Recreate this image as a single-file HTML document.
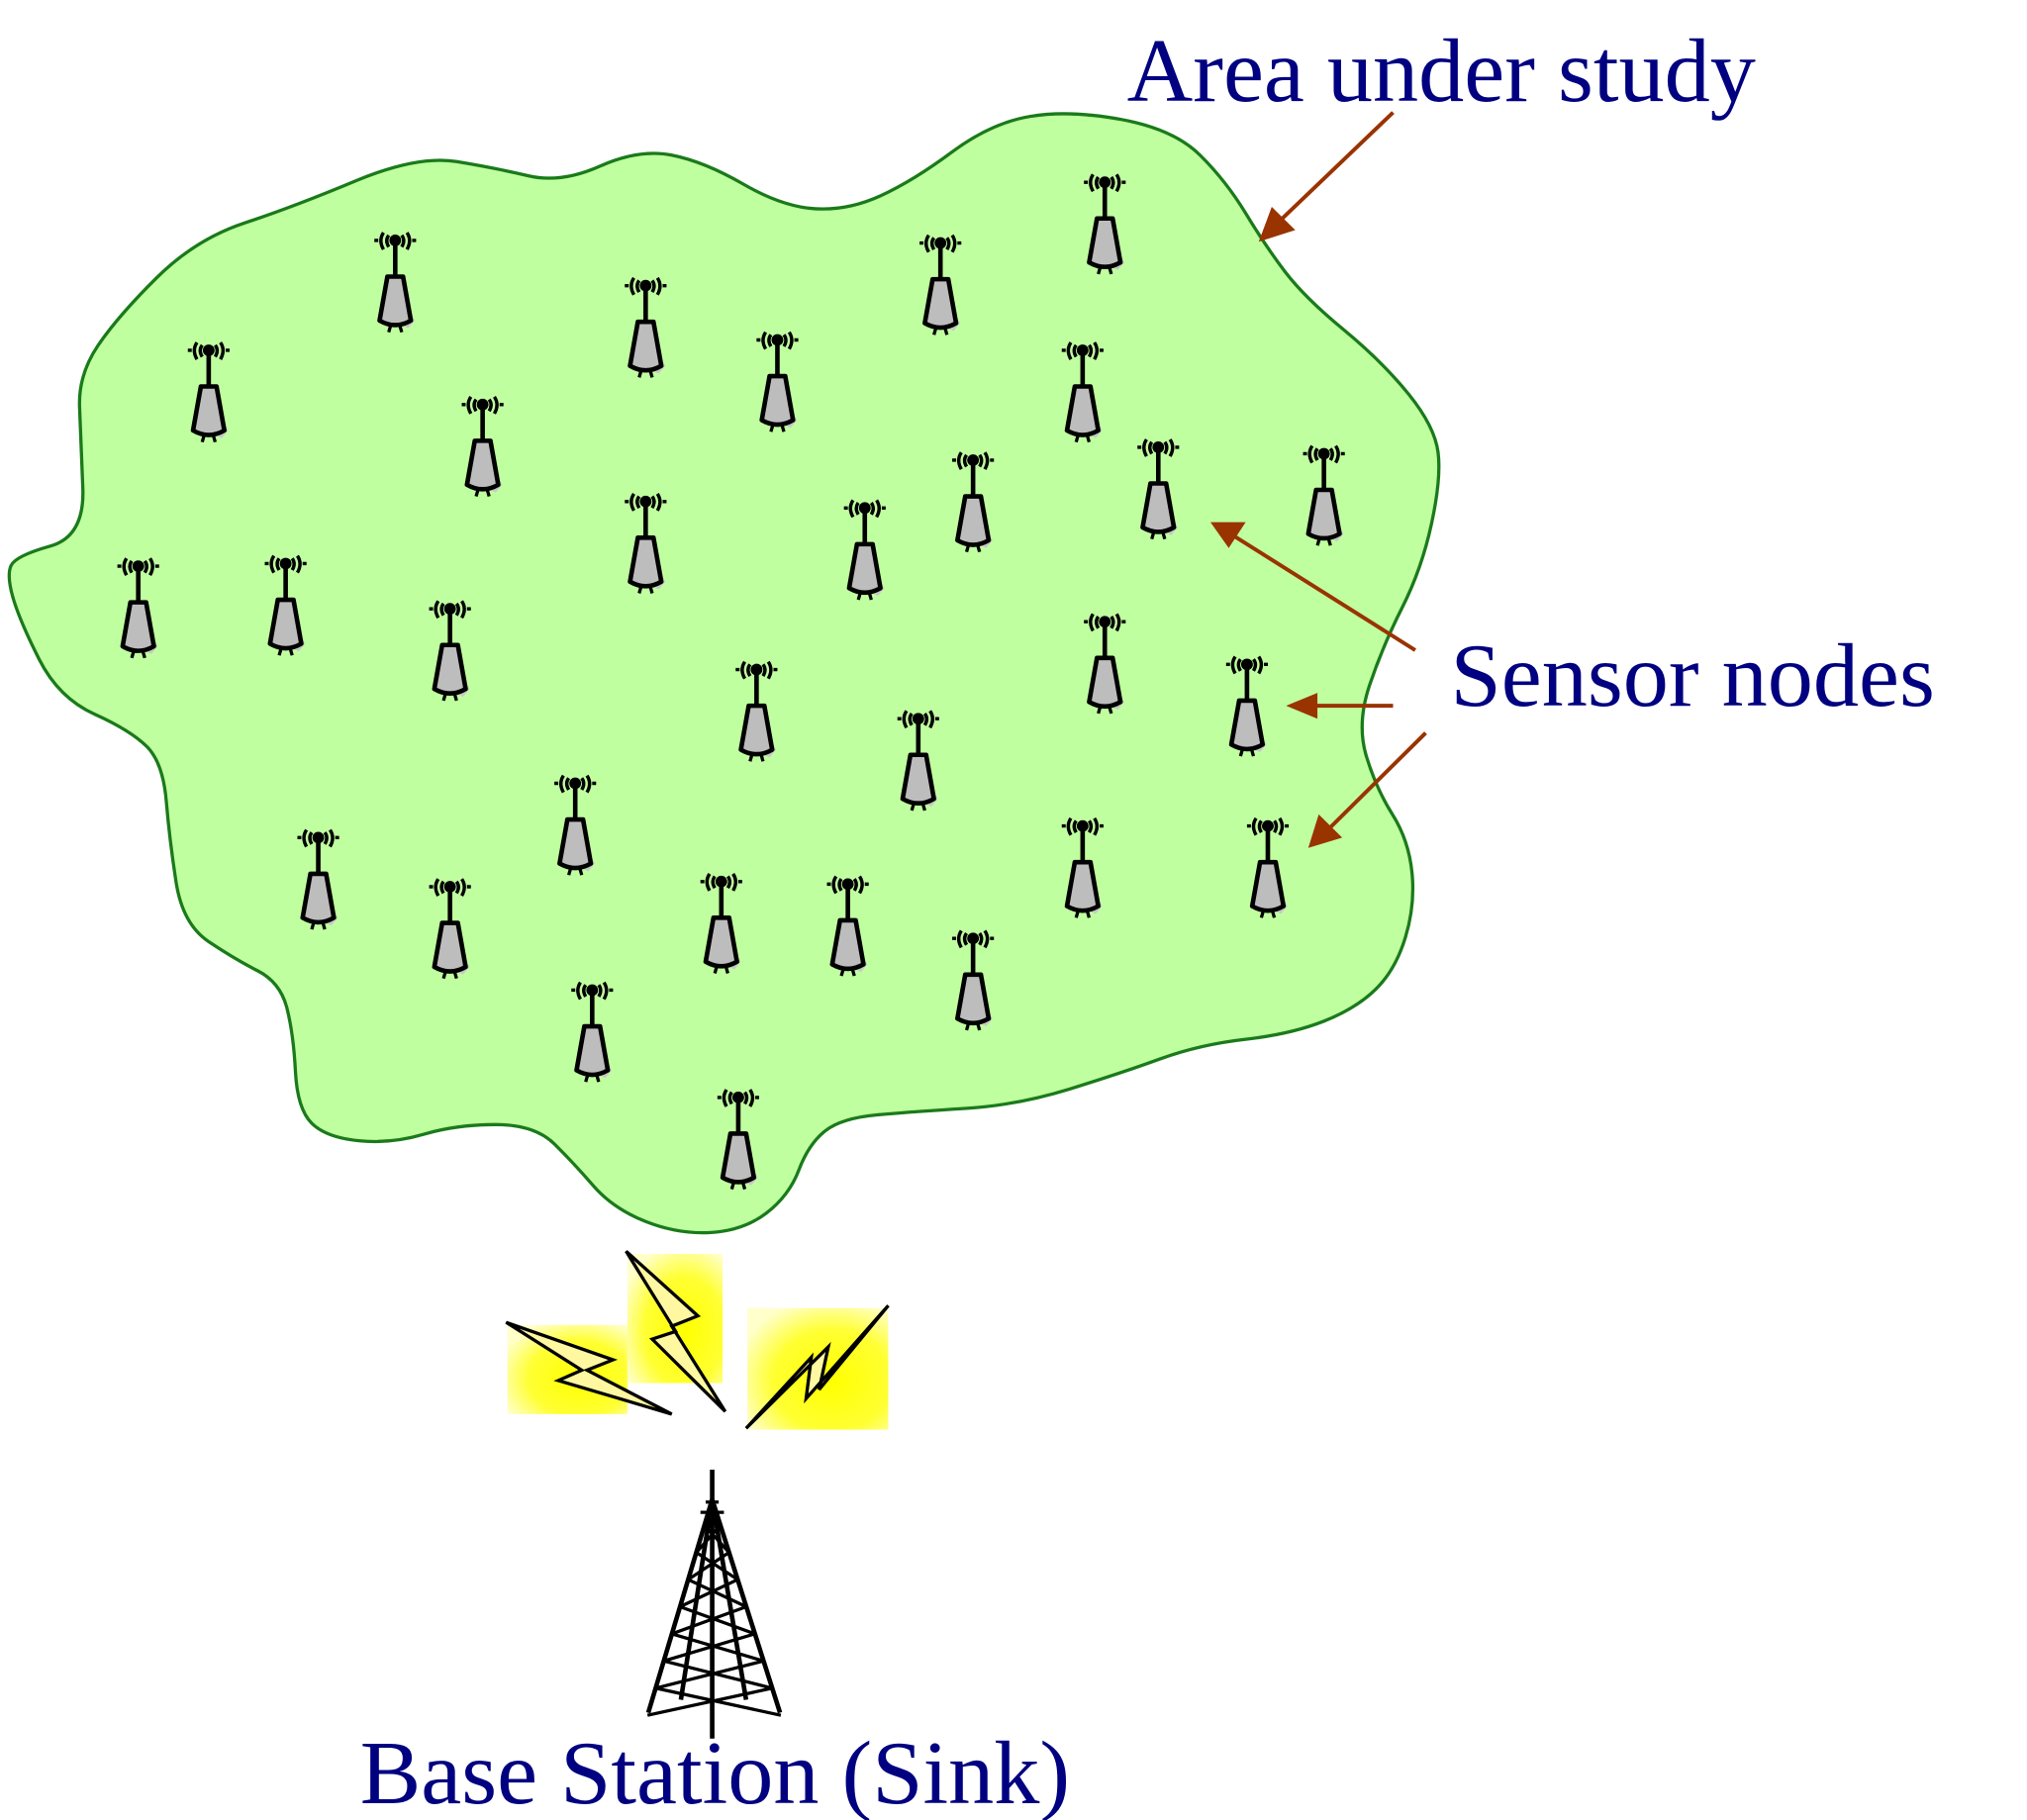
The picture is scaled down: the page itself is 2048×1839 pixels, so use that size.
<!DOCTYPE html>
<html><head><meta charset="utf-8"><style>
html,body{margin:0;padding:0;background:#fff;}
svg{display:block;}
text{font-family:"Liberation Serif",serif;fill:#000080;}
</style></head><body>
<svg id="s" width="2048" height="1839" viewBox="0 0 1554 1408" preserveAspectRatio="none" xmlns="http://www.w3.org/2000/svg">
<defs>
<symbol id="node" overflow="visible">
 <path d="M-5,2 Q-8,6 -5,11 M-9,0 Q-13,6 -9,13 M5,2 Q8,6 5,11 M9,0 Q13,6 9,13 M-13,6 L-16,6 M13,6 L16,6" stroke="#000" stroke-width="2.6" fill="none"/>
 <ellipse cx="0" cy="6" rx="4.5" ry="4.5" fill="#000"/>
 <line x1="0" y1="6" x2="0" y2="36" stroke="#000" stroke-width="3.5"/>
 <path d="M4,48 L15,68 L10,74 L2,70 Z" fill="#c8c8c8"/>
 <path d="M-6,34 L6,34 L12,68 Q0,75 -12,68 Z" fill="#bdbdbd" stroke="#000" stroke-width="3.5" stroke-linejoin="round"/>
 <path d="M-3,70 L-5,77 M3,70 L5,77" stroke="#000" stroke-width="2.5"/>
</symbol>
<radialGradient id="yg" cx="0.6" cy="0.6" r="0.7">
 <stop offset="0" stop-color="#ffff00"/><stop offset="0.6" stop-color="#ffff33"/><stop offset="1" stop-color="#ffffcc"/>
</radialGradient>
</defs>
<path id="blob" fill="#c0ffa0" stroke="#1a7a1a" stroke-width="2.5"/>
<g id="nodes"></g>
<g fill="#993300" stroke="#993300" stroke-width="3">
 <line x1="1068" y1="87" x2="980" y2="172"/>
 <polygon points="965,187 975,160 993,178" stroke="none"/>
 <line x1="1085" y1="503" x2="945" y2="414"/>
 <polygon points="928,404 955,404 942,424" stroke="none"/>
 <line x1="1068" y1="546" x2="1005" y2="546"/>
 <polygon points="986,546 1010,536 1010,556" stroke="none"/>
 <line x1="1093" y1="567" x2="1018" y2="642"/>
 <polygon points="1003,656 1011,630 1029,648" stroke="none"/>
</g>
<text x="864" y="78" font-size="70">Area under study</text>
<text x="1112" y="546" font-size="70">Sensor nodes</text>
<text x="276" y="1395" font-size="70">Base Station (Sink)</text>
<rect x="389" y="1025" width="92" height="69" fill="url(#yg)"/>
<rect x="481" y="970" width="73" height="100" fill="url(#yg)"/>
<rect x="573" y="1012" width="108" height="94" fill="url(#yg)"/>
<g stroke="#000" stroke-width="2.5" fill="#fff8a0" stroke-linejoin="miter">
 <polygon points="388,1023 470,1052 450,1060 515,1094 428,1068 446,1060"/>
 <polygon points="480,968 535,1018 515,1026 556,1092 500,1036 518,1030"/>
 <polygon points="572,1105 635,1042 628,1075 681,1010 618,1082 622,1050"/>
</g>
<g stroke="#000" stroke-width="3.5" fill="none">
 <line x1="546" y1="1137" x2="546" y2="1345"/>
 <line x1="546" y1="1160" x2="497" y2="1325"/>
 <line x1="546" y1="1160" x2="598" y2="1325"/>
 <line x1="546" y1="1160" x2="522" y2="1315"/>
 <line x1="546" y1="1160" x2="572" y2="1315"/>
 <path id="lat" stroke-width="2.5"/>
</g>
</svg>
<script>
var P=[[12,430],[65,415],[62,340],[60,290],[90,245],[150,185],[225,160],[320,120],[380,130],[430,142],[490,115],[540,125],[600,160],[650,163],[700,140],[760,95],[820,85],[900,100],[940,140],[970,190],[1000,230],[1060,280],[1100,330],[1105,370],[1090,440],[1060,500],[1040,560],[1055,610],[1080,650],[1085,700],[1070,750],[1040,780],[990,800],[920,808],[860,830],[780,855],[700,860],[645,865],[620,885],[605,925],[570,952],[520,955],[470,935],[440,900],[410,870],[350,870],[300,885],[250,880],[228,858],[225,800],[215,760],[180,742],[140,715],[130,650],[125,590],[100,565],[45,540],[15,480],[5,445]];
var n=P.length,d="";
function m(a,b){return [(a[0]+b[0])/2,(a[1]+b[1])/2];}
var s=m(P[n-1],P[0]);d="M"+s[0]+","+s[1];
for(var i=0;i<n;i++){var q=m(P[i],P[(i+1)%n]);d+=" Q"+P[i][0]+","+P[i][1]+" "+q[0]+","+q[1];}
document.getElementById("blob").setAttribute("d",d+"Z");
var N=[[303,180],[160,265],[495,215],[596,257],[721,182],[847,135],[370,307],[830,265],[888,340],[1015,345],[746,350],[495,382],[663,387],[106,432],[219,430],[345,465],[580,512],[847,475],[956,508],[704,550],[441,600],[244,642],[345,680],[553,676],[650,678],[830,633],[972,633],[746,720],[454,760],[566,843]];
var g=document.getElementById("nodes"),h="";
N.forEach(function(p){h+='<use href="#node" x="'+p[0]+'" y="'+p[1]+'"/>';});
g.innerHTML=h;
var l="";
for(var k=0;k<7;k++){var y1=1180+k*21,y2=y1+21;
 var f=function(y){return (y-1160)/165;};
 var a=f(y1),b=f(y2);
 var xl1=546-49*a,xr1=546+52*a,xl2=546-49*b,xr2=546+52*b;
 l+="M"+xl1+","+y1+" L"+xr2+","+y2+" M"+xr1+","+y1+" L"+xl2+","+y2+" ";
}
l+="M537,1170 L555,1170 M541,1162 L551,1162";
document.getElementById("lat").setAttribute("d",l);
</script>
</body></html>
